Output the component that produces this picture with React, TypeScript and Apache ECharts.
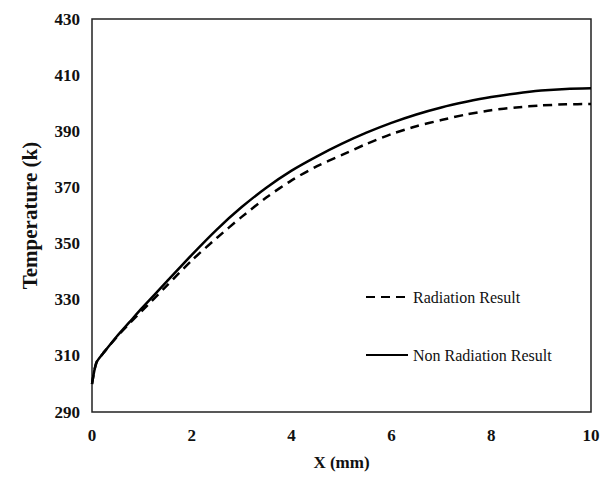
import React, { useEffect, useRef } from "react";
import * as echarts from "echarts";

const xValues = [0, 0.05, 0.1, 0.25, 0.5, 0.75, 1, 1.5, 2, 2.5, 3, 3.5, 4, 4.5, 5, 5.5, 6, 6.5, 7, 7.5, 8, 8.5, 9, 9.5, 10];
const radiation = [300, 305, 308, 311.5, 316.8, 321.5, 326, 335, 344, 352, 359.5, 366.5, 372.5, 377.5, 381.5, 385.5, 389, 391.8, 394, 396, 397.5, 398.5, 399.2, 399.6, 399.7];
const nonRadiation = [300, 305, 308, 311.5, 317, 322, 327, 336.5, 346, 355, 363, 370, 376, 381, 385.5, 389.5, 393, 396, 398.5, 400.5, 402.2, 403.5, 404.5, 405.1, 405.3];
const seriesNames = ["Radiation Result", "Non Radiation Result"];
const xTitle = "X (mm)";
const yTitle = "Temperature (k)";

const font = "Liberation Serif";

export default function App() {
  const ref = useRef<HTMLDivElement>(null);
  useEffect(() => {
    if (!ref.current) return;
    const chart = echarts.init(ref.current, undefined, { renderer: "svg" });
    chart.setOption({
      animation: false,
      backgroundColor: "#fff",
      textStyle: { fontFamily: font },
      grid: { left: 92, top: 19, right: 12, bottom: 71, show: true, borderColor: "#222", borderWidth: 1.5 },
      legend: {
        orient: "vertical",
        left: 360,
        top: 284,
        itemWidth: 42,
        itemHeight: 14,
        itemGap: 42,
        itemStyle: { opacity: 0 },
        textStyle: { fontFamily: font, fontSize: 16, fontWeight: "normal", color: "#111" },
        data: seriesNames,
      },
      xAxis: {
        type: "value",
        min: 0,
        max: 10,
        interval: 2,
        name: xTitle,
        nameLocation: "middle",
        nameGap: 42,
        nameTextStyle: { fontFamily: font, fontSize: 17, fontWeight: "bold", color: "#111" },
        axisLine: { show: false },
        axisTick: { show: false },
        splitLine: { show: false },
        axisLabel: { fontFamily: font, fontSize: 17, fontWeight: "bold", color: "#111", margin: 15 },
      },
      yAxis: {
        type: "value",
        min: 290,
        max: 430,
        interval: 20,
        name: yTitle,
        nameLocation: "middle",
        nameGap: 52,
        nameTextStyle: { fontFamily: font, fontSize: 21, fontWeight: "bold", color: "#111" },
        axisLine: { show: false },
        axisTick: { show: false },
        splitLine: { show: false },
        axisLabel: { fontFamily: font, fontSize: 17, fontWeight: "bold", color: "#111", margin: 12 },
      },
      series: [
        {
          name: seriesNames[0],
          type: "line",
          data: xValues.map((x, i) => [x, radiation[i]]),
          symbol: "none",
          smooth: 0.25,
          lineStyle: { color: "#000", width: 2.5, type: [9, 6] },
          itemStyle: { color: "#000" },
        },
        {
          name: seriesNames[1],
          type: "line",
          data: xValues.map((x, i) => [x, nonRadiation[i]]),
          symbol: "none",
          smooth: 0.25,
          lineStyle: { color: "#000", width: 2.5, type: "solid" },
          itemStyle: { color: "#000" },
        },
      ],
    });
    return () => chart.dispose();
  }, []);
  return <div ref={ref} style={{ width: 603, height: 483, position: "absolute", left: 0, top: 0 }} />;
}
